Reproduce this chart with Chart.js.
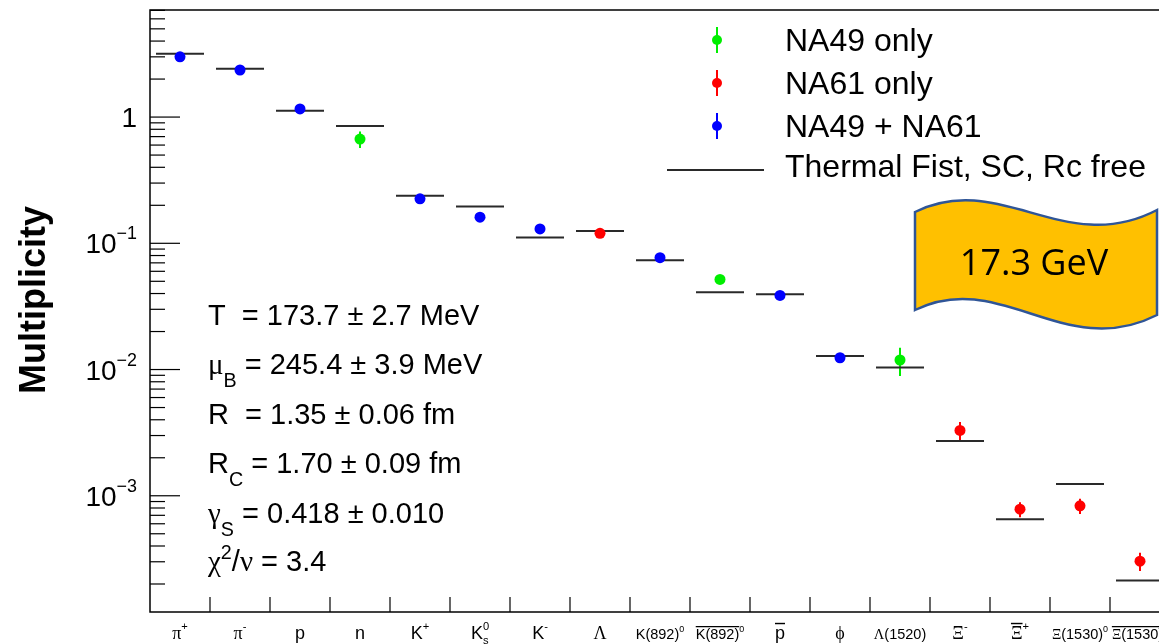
<!DOCTYPE html>
<html><head><meta charset="utf-8">
<script src="https://cdn.jsdelivr.net/npm/chart.js@4/dist/chart.umd.min.js"></script>
<style>
html,body{margin:0;padding:0;background:#fff;overflow:hidden;width:1159px;height:644px}
#wrap{position:absolute;left:0;top:0;width:1180px;height:644px}
</style>
</head><body><div id="wrap"><canvas id="c" width="1180" height="644"></canvas></div>
<script>
// ---------------- data ----------------
const categories = ["π^{+}", "π^{-}", "p", "n", "K^{+}", "K^{0}_{s}", "K^{-}", "Λ", "K(892)^{0}", "#bar{K(892)}^{0}",
  "#bar{p}", "ϕ", "Λ(1520)", "Ξ^{-}", "#bar{Ξ}^{+}", "Ξ(1530)^{0}", "#bar{Ξ(1530)}^{0}"];
const groups   = ["b", "b", "b", "g", "b", "b", "b", "r", "b", "g", "b", "b", "g", "r", "r", "r", "r"];
const measured = [3.00, 2.36, 1.16, 0.67, 0.225, 0.161, 0.130, 0.120, 0.077, 0.0517, 0.0386, 0.0124, 0.0119, 0.00329, 0.000783, 0.000832, 0.000303];
const errors   = [0.10, 0.08, 0.04, 0.10, 0.006, 0.005, 0.004, 0.004, 0.0025, 0.002, 0.0012, 0.0004, 0.003, 0.00055, 0.000107, 0.000115, 0.00005];
const thermal  = [3.17, 2.41, 1.12, 0.85, 0.238, 0.196, 0.111, 0.125, 0.0734, 0.0410, 0.0394, 0.0128, 0.0104, 0.00271, 0.000653, 0.00124, 0.000213];
const seriesKeys   = ["g", "r", "b"];
const seriesNames  = ["NA49 only", "NA61 only", "NA49 + NA61"];
const seriesColors = ["#00ee00", "#ff0000", "#0000ff"];
const modelName = "Thermal Fist, SC, Rc free";
const yMajorTicks = [1, 0.1, 0.01, 0.001];
const yMajorLabels = ["1", "10^{−1}", "10^{−2}", "10^{−3}"];
const yRange = [1.2e-4, 7.05];
const fitParams = ["T  = 173.7 ± 2.7 MeV", "μ_{B} = 245.4 ± 3.9 MeV", "R  = 1.35 ± 0.06 fm",
  "R_{C} = 1.70 ± 0.09 fm", "γ_{S} = 0.418 ± 0.010", "χ^{2}/ν = 3.4"];
const energyLabel = "17.3 GeV";
const yTitle = "Multiplicity";

// ---------------- rich text (ROOT-like markup) ----------------
const SANS = '"Liberation Sans", Arial, Helvetica, sans-serif';
const SERIF = '"Liberation Serif", "Times New Roman", serif';
function parseRich(s){
  let i = 0;
  function seq(inBrace){
    const out = []; let buf = '';
    const flush = () => { if (buf) { out.push({type:'text', t:buf}); buf=''; } };
    while (i < s.length){
      const c = s[i];
      if (c === '}' && inBrace){ i++; break; }
      if ((c === '^' || c === '_') && s[i+1] === '{'){ flush(); i += 2; out.push({type: c==='^'?'sup':'sub', kids: seq(true)}); continue; }
      if (s.startsWith('#bar{', i)){ flush(); i += 5; out.push({type:'bar', kids: seq(true)}); continue; }
      buf += c; i++;
    }
    flush(); return out;
  }
  return seq(false);
}
function isGreek(ch){ return /[\u0370-\u03FF\u03D5]/.test(ch); }
function layoutRich(ctx, nodes, size, dy, x0, ops, opt){
  let x = x0;
  for (let k = 0; k < nodes.length; k++){
    const n = nodes[k];
    if (n.type === 'text'){
      let run = '', runG = null;
      const flushRun = () => {
        if (!run) return;
        ctx.font = `${opt.bold?'bold ':''}${size}px ${runG?SERIF:SANS}`;
        ops.push({kind:'t', t:run, x, dy, font:ctx.font});
        x += ctx.measureText(run).width; run = '';
      };
      for (const ch of n.t){
        const g = isGreek(ch);
        if (runG !== null && g !== runG) flushRun();
        runG = g; run += ch;
      }
      flushRun();
    } else if (n.type === 'bar'){
      const start = x;
      x = layoutRich(ctx, n.kids, size, dy, x, ops, opt);
      ops.push({kind:'bar', x0:start, x1:x, dy: dy - size*0.86, lw: Math.max(1.2, size*0.08)});
    } else {
      const ss = size*(opt.scriptScale||0.64);
      const off = t => t === 'sup' ? dy - size*(opt.supRaise||0.45) : dy + size*(opt.subDrop||0.42);
      let xe = layoutRich(ctx, n.kids, ss, off(n.type), x, ops, opt);
      const nx = nodes[k+1];
      if (nx && (nx.type === 'sup' || nx.type === 'sub') && nx.type !== n.type){
        const xe2 = layoutRich(ctx, nx.kids, ss, off(nx.type), x, ops, opt);
        xe = Math.max(xe, xe2); k++;
      }
      x = xe;
    }
  }
  return x;
}
function drawRich(ctx, str, x, y, size, align, opt){
  opt = opt || {};
  const ops = [];
  const w = layoutRich(ctx, parseRich(str), size, 0, 0, ops, opt);
  const ox = align === 'center' ? x - w/2 : align === 'right' ? x - w : x;
  ctx.save();
  ctx.fillStyle = opt.color || '#000'; ctx.strokeStyle = opt.color || '#000';
  ctx.textAlign = 'left'; ctx.textBaseline = 'alphabetic';
  for (const o of ops){
    if (o.kind === 't'){ ctx.font = o.font; ctx.fillText(o.t, ox + o.x, y + o.dy); }
    else { ctx.lineWidth = o.lw; ctx.beginPath(); ctx.moveTo(ox + o.x0, y + o.dy); ctx.lineTo(ox + o.x1, y + o.dy); ctx.stroke(); }
  }
  ctx.restore();
  return w;
}

// ---------------- datasets ----------------
const pointSets = seriesKeys.map((key, s) => ({
  label: seriesNames[s],
  data: categories.map((c, i) => groups[i] === key ? {x: i + 0.5, y: measured[i], err: errors[i]} : null).filter(Boolean),
  backgroundColor: seriesColors[s], borderColor: seriesColors[s], borderWidth: 0,
  pointRadius: 5.5, pointStyle: 'circle', showLine: false, order: 1
}));
const modelSet = {
  label: modelName,
  data: categories.map((c, i) => ({x: i + 0.5, y: thermal[i]})),
  pointStyle: 'line', pointRadius: 24, borderColor: '#2a2a2a', backgroundColor: '#2a2a2a',
  borderWidth: 2, showLine: false, order: 5
};

// ---------------- decorations plugin ----------------
const decor = {
  id: 'decor',
  beforeDatasetsDraw(chart){
    const ctx = chart.ctx, xs = chart.scales.x, ys = chart.scales.y;
    ctx.save();
    chart.data.datasets.forEach(ds => {
      if (ds === modelSet) return;
      ctx.strokeStyle = ds.borderColor; ctx.lineWidth = 2;
      ds.data.forEach(p => {
        const px = xs.getPixelForValue(p.x);
        ctx.beginPath();
        ctx.moveTo(px, ys.getPixelForValue(p.y + p.err));
        ctx.lineTo(px, ys.getPixelForValue(Math.max(p.y - p.err, 1e-9)));
        ctx.stroke();
      });
    });
    ctx.restore();
  },
  afterDraw(chart){
    const ctx = chart.ctx, xs = chart.scales.x, ys = chart.scales.y, a = chart.chartArea;
    ctx.save();
    // frame
    ctx.strokeStyle = '#000'; ctx.lineWidth = 1.5;
    ctx.strokeRect(a.left, a.top, a.right - a.left, a.bottom - a.top);
    // y ticks
    ctx.lineWidth = 1.2;
    for (let e = -4; e <= 1; e++){
      for (let m = 1; m <= 9; m++){
        const v = m * Math.pow(10, e);
        if (v < yRange[0] || v > yRange[1]) continue;
        const py = ys.getPixelForValue(v);
        ctx.beginPath(); ctx.moveTo(a.left, py); ctx.lineTo(a.left + (m === 1 ? 30 : 15), py); ctx.stroke();
      }
    }
    yMajorTicks.forEach((v, i) => {
      const py = ys.getPixelForValue(v);
      drawRich(ctx, yMajorLabels[i], a.left - 13, py + 10, 28, 'right', {scriptScale: 0.64, supRaise: 0.5});
    });
    // x ticks + labels
    for (let i = 1; i < categories.length; i++){
      const px = xs.getPixelForValue(i);
      ctx.beginPath(); ctx.moveTo(px, a.bottom); ctx.lineTo(px, a.bottom - 15); ctx.stroke();
    }
    categories.forEach((c, i) => {
      const plain = c.replace(/#bar\{|\^\{[^}]*\}|_\{[^}]*\}|[{}]/g, '');
      const size = plain.length > 3 ? 14.5 : 18;
      drawRich(ctx, c, xs.getPixelForValue(i + 0.5), 639, size, 'center', {scriptScale: 0.62, supRaise: 0.5, subDrop: 0.3});
    });
    // y title
    ctx.save();
    ctx.translate(45, 300); ctx.rotate(-Math.PI/2);
    ctx.font = `bold 36px ${SANS}`; ctx.fillStyle = '#000'; ctx.textAlign = 'center'; ctx.textBaseline = 'alphabetic';
    ctx.fillText(yTitle, 0, 0);
    ctx.restore();
    // legend
    const legX = 717, legTextX = 785, legRows = [40, 83, 126, 170];
    pointSets.forEach((ds, s) => {
      const cy = legRows[s];
      ctx.strokeStyle = ds.borderColor; ctx.fillStyle = ds.backgroundColor; ctx.lineWidth = 2;
      ctx.beginPath(); ctx.moveTo(legX, cy - 13); ctx.lineTo(legX, cy + 13); ctx.stroke();
      ctx.beginPath(); ctx.arc(legX, cy, 5, 0, Math.PI*2); ctx.fill();
      drawRich(ctx, ds.label, legTextX, cy + 11, 32, 'left');
    });
    ctx.strokeStyle = modelSet.borderColor; ctx.lineWidth = 2;
    ctx.beginPath(); ctx.moveTo(667, legRows[3]); ctx.lineTo(764, legRows[3]); ctx.stroke();
    drawRich(ctx, modelSet.label, legTextX, legRows[3] + 7, 32, 'left');
    // fit parameters
    const base = [325, 374, 424, 473, 523, 571];
    fitParams.forEach((t, i) => drawRich(ctx, t, 208, base[i], 29, 'left', {scriptScale: 0.68, subDrop: 0.45, supRaise: 0.42}));
    // energy banner
    ctx.beginPath();
    ctx.moveTo(915, 212);
    ctx.bezierCurveTo(1000, 170, 1065, 258, 1157, 210);
    ctx.lineTo(1157, 315);
    ctx.bezierCurveTo(1065, 362, 1000, 268, 915, 310);
    ctx.closePath();
    ctx.fillStyle = '#FFC000'; ctx.fill();
    ctx.strokeStyle = '#2F5597'; ctx.lineWidth = 2.5; ctx.stroke();
    ctx.fillStyle = '#000'; ctx.font = `36px "Open Sans", Lato, sans-serif`; ctx.textAlign = 'center'; ctx.textBaseline = 'alphabetic';
    ctx.fillText(energyLabel, 1034, 275);
    ctx.restore();
  }
};

new Chart(document.getElementById('c').getContext('2d'), {
  type: 'scatter',
  data: { datasets: [...pointSets, modelSet] },
  options: {
    responsive: false, animation: false, events: [],
    layout: { autoPadding: false, padding: { left: 150, right: 10, top: 10, bottom: 32 } },
    plugins: { legend: { display: false }, tooltip: { enabled: false } },
    scales: {
      x: { type: 'linear', min: 0, max: categories.length, display: false },
      y: { type: 'logarithmic', min: yRange[0], max: yRange[1], display: false }
    }
  },
  plugins: [decor]
});
</script>
</body></html>
